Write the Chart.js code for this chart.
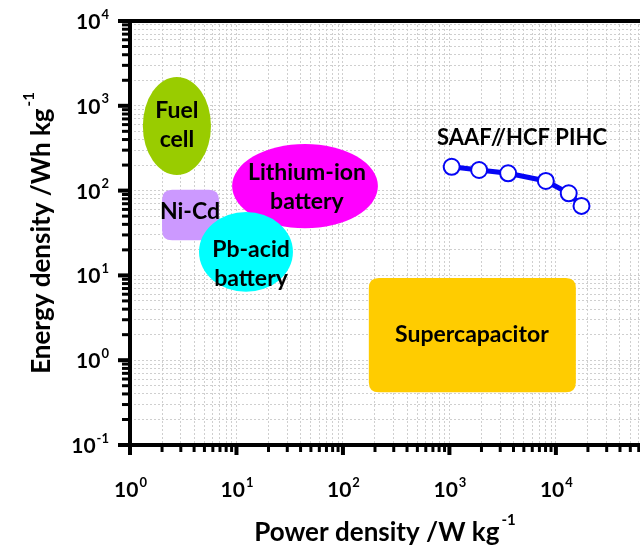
<!DOCTYPE html>
<html>
<head>
<meta charset="utf-8">
<script src="https://cdn.jsdelivr.net/npm/chart.js@4/dist/chart.umd.min.js"></script>
<style>
  html, body { margin: 0; padding: 0; background: #fff; }
  #wrap { width: 640px; height: 553px; }
</style>
</head>
<body>
<div id="wrap"><canvas id="ragone"></canvas></div>
<script>
// SAAF//HCF PIHC device
const pihcPower = [1050, 1900, 3560, 8050, 13200, 17400];  // W/kg
const pihcEnergy = [191, 175, 160, 130, 93, 66];           // Wh/kg
const pihcName = 'SAAF//HCF PIHC';
const pihcNameAt = [4800, 417];

// reference technologies: power / energy ranges
const regionNames = [['Fuel', 'cell'], ['Lithium-ion', 'battery'], ['Ni-Cd'], ['Pb-acid', 'battery'], ['Supercapacitor']];
const regionPower = [[1.32, 5.76], [9.1, 213], [2.0, 6.85], [4.45, 33.9], [175, 15400]];
const regionEnergy = [[153, 2190], [36, 355], [26, 102], [6.4, 56], [0.42, 9.3]];
const regionLabelPower = [2.76, 45.9, 3.66, 13.7, 1626];
const regionLabelEnergy = [594, 110, 56, 13.6, 1.98];
const regionShape = ['ellipse', 'ellipse', 'box', 'ellipse', 'box'];
const regionColors = ['#99cc00', '#ff00ff', '#cc99ff', '#00ffff', '#ffcc00'];

// axis decades
const xDecades = [0, 1, 2, 3, 4];
const yDecades = [-1, 0, 1, 2, 3, 4];
const xMax = Math.pow(10, 4.79);

const FONT = 'Lato, "Open Sans", sans-serif';

function logTicks(min, max) {
  const out = [];
  for (let e = Math.floor(Math.log10(min)); e <= Math.ceil(Math.log10(max)); e++) {
    for (let m = 1; m < 10; m++) {
      const v = m * Math.pow(10, e);
      if (v >= min * 0.999 && v <= max * 1.001) out.push({ value: v, major: m === 1 });
    }
  }
  return out;
}

function roundBox(ctx, x, y, w, h, r) {
  ctx.beginPath();
  ctx.moveTo(x + r, y);
  ctx.lineTo(x + w - r, y);
  ctx.quadraticCurveTo(x + w, y, x + w, y + r);
  ctx.lineTo(x + w, y + h - r);
  ctx.quadraticCurveTo(x + w, y + h, x + w - r, y + h);
  ctx.lineTo(x + r, y + h);
  ctx.quadraticCurveTo(x, y + h, x, y + h - r);
  ctx.lineTo(x, y + r);
  ctx.quadraticCurveTo(x, y, x + r, y);
  ctx.closePath();
}

// "10" with a raised exponent, anchored at x by align
function powerLabel(ctx, exp, x, baseline, align, big, small) {
  ctx.font = 'bold ' + big + 'px ' + FONT;
  const wBase = ctx.measureText('10').width;
  ctx.font = 'bold ' + small + 'px ' + FONT;
  const wExp = ctx.measureText(String(exp)).width;
  let x0 = x;
  if (align === 'center') x0 = x - (wBase + wExp) / 2;
  if (align === 'right') x0 = x - (wBase + wExp);
  ctx.textAlign = 'left';
  ctx.textBaseline = 'alphabetic';
  ctx.font = 'bold ' + big + 'px ' + FONT;
  ctx.fillText('10', x0, baseline);
  ctx.font = 'bold ' + small + 'px ' + FONT;
  ctx.fillText(String(exp), x0 + wBase + 1, baseline - big * 0.5);
}

function titleWithSup(ctx, text, sup, cx, baseline, big, small) {
  ctx.font = 'bold ' + big + 'px ' + FONT;
  const w1 = ctx.measureText(text).width;
  ctx.font = 'bold ' + small + 'px ' + FONT;
  const w2 = ctx.measureText(sup).width;
  const x0 = cx - (w1 + w2 + 2) / 2;
  ctx.textAlign = 'left';
  ctx.textBaseline = 'alphabetic';
  ctx.font = 'bold ' + big + 'px ' + FONT;
  ctx.fillText(text, x0, baseline);
  ctx.font = 'bold ' + small + 'px ' + FONT;
  ctx.fillText(sup, x0 + w1 + 2, baseline - big * 0.62);
}

const ragonePlugin = {
  id: 'ragone',
  beforeDatasetsDraw(chart) {
    const { ctx, scales: { x, y } } = chart;
    ctx.save();
    regionNames.forEach((lines, i) => {
      const x1 = x.getPixelForValue(regionPower[i][0]);
      const x2 = x.getPixelForValue(regionPower[i][1]);
      const y1 = y.getPixelForValue(regionEnergy[i][1]);
      const y2 = y.getPixelForValue(regionEnergy[i][0]);
      ctx.fillStyle = regionColors[i];
      if (regionShape[i] === 'ellipse') {
        ctx.beginPath();
        ctx.ellipse((x1 + x2) / 2, (y1 + y2) / 2, (x2 - x1) / 2, (y2 - y1) / 2, 0, 0, Math.PI * 2);
        ctx.fill();
      } else {
        roundBox(ctx, x1, y1, x2 - x1, y2 - y1, 10);
        ctx.fill();
      }
    });
    ctx.fillStyle = '#000';
    ctx.textAlign = 'center';
    ctx.textBaseline = 'middle';
    ctx.font = 'bold 23px ' + FONT;
    regionNames.forEach((lines, i) => {
      const cx = x.getPixelForValue(regionLabelPower[i]);
      const cy = y.getPixelForValue(regionLabelEnergy[i]);
      const lh = 29;
      lines.forEach((t, k) => {
        ctx.fillText(t, cx, cy + (k - (lines.length - 1) / 2) * lh);
      });
    });
    ctx.font = 'bold 22px ' + FONT;
    ctx.fillText(pihcName, x.getPixelForValue(pihcNameAt[0]), y.getPixelForValue(pihcNameAt[1]));
    ctx.restore();
  },
  afterDatasetsDraw(chart) {
    const { ctx, chartArea: a, scales: { x, y } } = chart;
    ctx.save();
    ctx.strokeStyle = '#000';
    ctx.fillStyle = '#000';
    ctx.lineCap = 'butt';

    // frame: left, bottom, top
    ctx.lineWidth = 4;
    ctx.beginPath();
    ctx.moveTo(a.left, a.top);
    ctx.lineTo(a.left, a.bottom + 10);
    ctx.moveTo(a.left - 10, a.bottom);
    ctx.lineTo(a.right, a.bottom);
    ctx.moveTo(a.left - 2, a.top);
    ctx.lineTo(a.right, a.top);
    ctx.stroke();

    // tick marks
    x.ticks.forEach(t => {
      const px = x.getPixelForValue(t.value);
      ctx.lineWidth = t.major ? 4 : 3;
      ctx.beginPath();
      ctx.moveTo(px, a.bottom);
      ctx.lineTo(px, a.bottom + (t.major ? 10 : 7));
      ctx.stroke();
    });
    y.ticks.forEach(t => {
      const py = y.getPixelForValue(t.value);
      ctx.lineWidth = t.major ? 4 : 3;
      ctx.beginPath();
      ctx.moveTo(a.left, py);
      ctx.lineTo(a.left - (t.major ? 12 : 8), py);
      ctx.stroke();
    });

    // tick labels
    xDecades.forEach(e => {
      powerLabel(ctx, e, x.getPixelForValue(Math.pow(10, e)), a.bottom + 52, 'center', 21, 13);
    });
    yDecades.forEach(e => {
      powerLabel(ctx, e, a.left - 22, y.getPixelForValue(Math.pow(10, e)) + 8, 'right', 21, 13);
    });

    // axis titles
    titleWithSup(ctx, 'Power density /W kg', '-1', (a.left + a.right) / 2, a.bottom + 96, 26, 15);
    ctx.translate(50, (a.top + a.bottom) / 2);
    ctx.rotate(-Math.PI / 2);
    titleWithSup(ctx, 'Energy density /Wh kg', '-1', 0, 0, 26, 15);
    ctx.restore();
  }
};

new Chart(document.getElementById('ragone'), {
  type: 'scatter',
  data: {
    datasets: [{
      label: pihcName,
      data: pihcPower.map((p, i) => ({ x: p, y: pihcEnergy[i] })),
      showLine: true,
      borderColor: '#0505f5',
      borderWidth: 5,
      pointRadius: 8,
      pointBorderWidth: 2,
      pointBackgroundColor: '#fff',
      pointBorderColor: '#0505f5'
    }]
  },
  options: {
    responsive: true,
    maintainAspectRatio: false,
    animation: false,
    layout: { autoPadding: false, padding: { top: 21, right: 0, left: 0, bottom: 0 } },
    plugins: { legend: { display: false }, tooltip: { enabled: false } },
    scales: {
      x: {
        type: 'logarithmic',
        min: 1,
        max: xMax,
        afterBuildTicks: s => { s.ticks = logTicks(s.min, s.max); },
        afterFit: s => { s.height = 108; },
        ticks: { display: false },
        grid: { color: '#cfcfcf', lineWidth: 1, drawTicks: false },
        border: { display: false, dash: [2, 2] }
      },
      y: {
        type: 'logarithmic',
        min: 0.1,
        max: 10000,
        afterBuildTicks: s => { s.ticks = logTicks(s.min, s.max); },
        afterFit: s => { s.width = 130; },
        ticks: { display: false },
        grid: { color: '#cfcfcf', lineWidth: 1, drawTicks: false },
        border: { display: false, dash: [2, 2] }
      }
    }
  },
  plugins: [ragonePlugin]
});
</script>
</body>
</html>
